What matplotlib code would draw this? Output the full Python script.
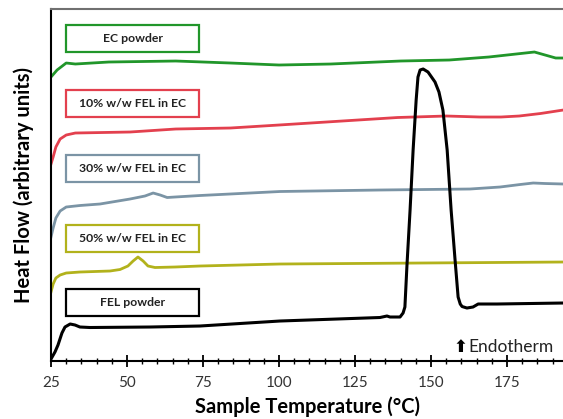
import matplotlib.pyplot as plt
from matplotlib.patches import Rectangle
from matplotlib.ticker import MultipleLocator

plt.rcParams['font.family'] = ['Lato', 'DejaVu Sans']

# === Curvas DSC (flujo de calor, unidades arbitrarias) ===
ec_T = [25, 27, 30, 33, 44, 66, 84, 100, 117, 140, 156, 169, 178, 184, 187.5, 191, 193.5]
ec_hf = [284, 291, 298, 297, 299, 300, 298, 296, 297, 300, 301, 304, 307, 309, 306, 303, 303]

fel10_T = [25, 25.7, 26.6, 28, 30, 33, 51, 66, 84, 100, 139, 155, 166, 173, 179, 186, 193.5]
fel10_hf = [197, 204, 214, 222, 226, 228, 229, 232, 233, 236, 243.5, 245, 244, 244, 245, 247.5, 251]

fel30_T = [25, 25.7, 26.6, 28, 30, 34.5, 41.1, 51, 55.9, 58.6, 60.9, 63.2, 65.8, 74, 83.9,
           100.3, 133.2, 162.8, 172.7, 179.3, 183.6, 187.5, 193.5]
fel30_hf = [124, 133, 143, 150, 154, 155.5, 157, 162, 165, 168, 166, 163.5, 164, 165.5, 167,
            169.5, 171, 172, 174, 176.5, 178, 177.5, 177]

fel50_T = [25, 25.7, 26.6, 28, 30, 34.5, 44.4, 47.7, 50.3, 52, 53.6, 55.3, 56.9, 59.2, 65.8,
           74, 100.3, 193.5]
fel50_hf = [69, 77, 83, 86, 88, 89, 90, 91.5, 95, 100, 104, 100, 95, 93.5, 94, 95, 97, 99]

fel_T = [25, 26.3, 27.3, 28.6, 29.6, 31.3, 32.9, 34.5, 37.8, 57.6, 74, 100.3, 133.2, 135.5,
         136.5, 139.8, 140.8, 141.4, 142.1, 143.1, 144.1, 145.1, 145.7, 146.4, 147.4, 149,
         151.3, 152.6, 153.9, 155.3, 156.6, 157.9, 158.9, 159.6, 160.2, 161.8, 163.8, 165.5,
         171.7, 193.5]
fel_hf = [2, 9, 16, 28, 34, 37, 36, 34, 33.5, 34, 35, 40, 43.5, 45, 44, 44, 48, 54, 97, 151,
          211, 261, 284, 291, 292, 289, 279, 269, 251, 211, 151, 101, 64, 57, 54.5, 53, 54, 57,
          57, 58]

labels = ['EC powder', '10% w/w FEL in EC', '30% w/w FEL in EC', '50% w/w FEL in EC', 'FEL powder']
colors = ['#21962a', '#e3404e', '#7b94a5', '#b2b21c', '#000000']
xticks = [25, 50, 75, 100, 125, 150, 175]

fig = plt.figure(figsize=(5.63, 4.19), dpi=100)
ax = fig.add_axes([0.0906, 0.1384, 0.9094, 0.8401])

series = [(ec_T, ec_hf), (fel10_T, fel10_hf), (fel30_T, fel30_hf), (fel50_T, fel50_hf), (fel_T, fel_hf)]
for (t, hf), c in zip(series, colors):
    ax.plot(t, hf, color=c, lw=2.0 if c != '#000000' else 2.2)

ax.set_xlim(25, 193.4)
ax.set_ylim(0, 352)

# === Cajas de etiquetas ===
box_y = [0.878, 0.693, 0.5085, 0.3097, 0.128]
for lab, c, y0 in zip(labels, colors, box_y):
    ax.add_patch(Rectangle((0.0293, y0), 0.2598, 0.0767, transform=ax.transAxes,
                           fill=False, edgecolor=c, lw=1.6, clip_on=False))
    ax.text(0.0293 + 0.1299, y0 + 0.0383, lab, transform=ax.transAxes, ha='center',
            va='center', fontsize=8.8, fontweight='bold', color='#222222')

ax.text(0.786, 0.04, '⬆', transform=ax.transAxes, fontsize=12, color='black',
        ha='left', va='center', family=['DejaVu Sans'], fontweight='bold')
ax.text(0.816, 0.04, 'Endotherm', transform=ax.transAxes, fontsize=12.5, color='#222222',
        ha='left', va='center')

# === Ejes ===
ax.set_xticks(xticks)
ax.xaxis.set_minor_locator(MultipleLocator(5))
ax.set_yticks([])
ax.tick_params(axis='x', which='major', direction='inout', length=9, width=1.3,
               labelsize=11, labelcolor='#333333', pad=6)
ax.tick_params(axis='x', which='minor', direction='inout', length=5, width=1.0)
ax.spines['left'].set_linewidth(1.5)
ax.spines['bottom'].set_linewidth(1.5)
ax.spines['top'].set_color('#707070')
ax.spines['top'].set_linewidth(1.5)
ax.spines['right'].set_visible(False)

ax.set_xlabel('Sample Temperature (°C)', fontsize=14.5, fontweight='bold', labelpad=5)
ax.set_ylabel('Heat Flow (arbitrary units)', fontsize=14.5, fontweight='bold', labelpad=12)

fig.savefig('out.png', dpi=100)
